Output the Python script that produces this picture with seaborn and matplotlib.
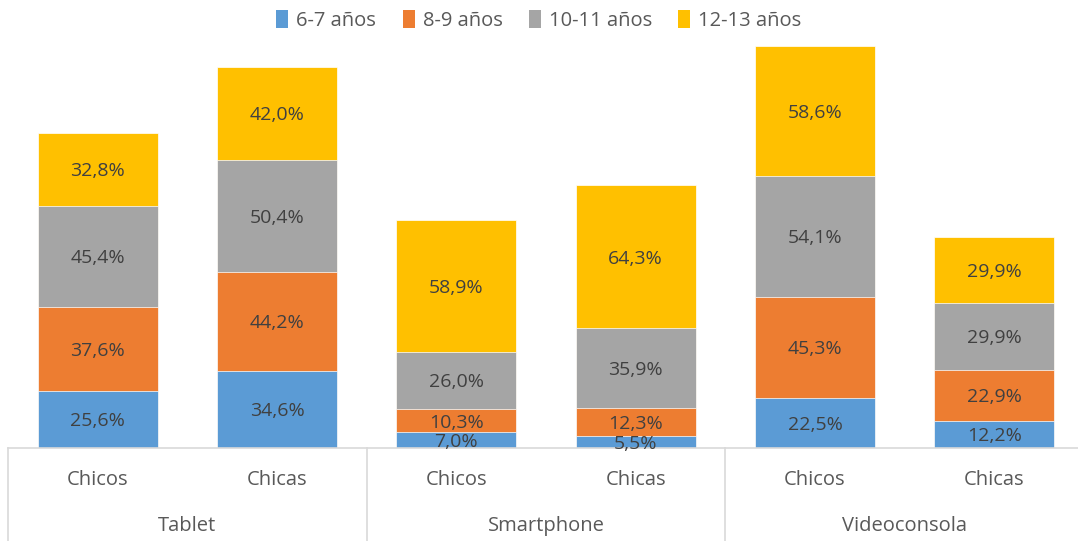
import matplotlib.pyplot as plt
import matplotlib.transforms as mtransforms
from matplotlib.patches import Patch
import seaborn as sns
import pandas as pd
import numpy as np

devices = ["Tablet", "Smartphone", "Videoconsola"]
genders = ["Chicos", "Chicas"]
ages = ["6-7 años", "8-9 años", "10-11 años", "12-13 años"]
colors = ["#5B9BD5", "#ED7D31", "#A5A5A5", "#FFC000"]

# one value per bar, in order Tablet/Chicos, Tablet/Chicas, Smartphone/..., Videoconsola/...
age_6_7 = [25.6, 34.6, 7.0, 5.5, 22.5, 12.2]
age_8_9 = [37.6, 44.2, 10.3, 12.3, 45.3, 22.9]
age_10_11 = [45.4, 50.4, 26.0, 35.9, 54.1, 29.9]
age_12_13 = [32.8, 42.0, 58.9, 64.3, 58.6, 29.9]

keys = [f"{d}|{g}" for d in devices for g in genders]
layers = np.array([age_6_7, age_8_9, age_10_11, age_12_13])
cum = layers.cumsum(axis=0)

df = pd.DataFrame({"bar": keys})
for i in range(4):
    df[f"cum{i}"] = cum[i]

plt.rcParams["font.family"] = ["Open Sans", "DejaVu Sans"]
fig = plt.figure(figsize=(10.78, 5.41), dpi=100)
H = 541
ax = fig.add_axes([8 / 1078, 93 / H, 1076 / 1078, 405.5 / H])

# stacked look: draw cumulative totals from top layer down
for i in range(3, -1, -1):
    sns.barplot(data=df, x="bar", y=f"cum{i}", order=keys, color=colors[i],
                width=0.67, edgecolor="white", linewidth=0.5, saturation=1, ax=ax)

ax.set_xlim(-0.5, 5.5)
ax.set_ylim(0, 182)
ax.set_xlabel("")
ax.set_ylabel("")
ax.set_xticks([])
ax.set_yticks([])
for s in ["top", "right", "left"]:
    ax.spines[s].set_visible(False)
ax.spines["bottom"].set_color("#d9d9d9")
ax.spines["bottom"].set_linewidth(1.2)

# segment labels
for j in range(6):
    base = 0
    for i in range(4):
        v = layers[i, j]
        ax.text(j, base + v / 2 - 0.8, f"{v:.1f}%".replace(".", ","), ha="center", va="center",
                fontsize=14, color="#404040")
        base += v

# category axis: genders, then devices, with separators
trans = mtransforms.blended_transform_factory(ax.transData, ax.transAxes)
for j in range(6):
    ax.text(j, -32 / 405.5, genders[j % 2], transform=trans, ha="center", va="center",
            fontsize=14.5, color="#595959")
for k, d in enumerate(devices):
    ax.text(2 * k + 0.5, -78 / 405.5, d, transform=trans, ha="center", va="center",
            fontsize=14.5, color="#595959")
for xs in [-0.5, 1.5, 3.5, 5.5]:
    ax.plot([xs, xs], [0, -95 / 405.5], transform=trans, color="#d9d9d9",
            linewidth=1.2, clip_on=False)

handles = [Patch(facecolor=c, edgecolor="none") for c in colors]
leg = fig.legend(handles, ages, loc="upper center", bbox_to_anchor=(0.5, 1.015), ncol=4,
                 frameon=False, fontsize=14.5, handlelength=0.6, handleheight=1.0,
                 handletextpad=0.4, columnspacing=1.3)
for t in leg.get_texts():
    t.set_color("#595959")

fig.savefig("out.png", dpi=100)
